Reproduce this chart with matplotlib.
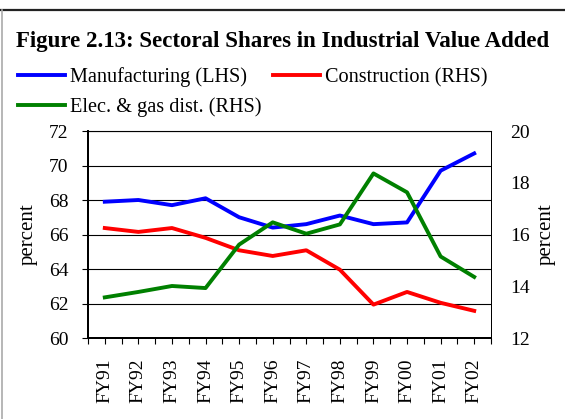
"""Sectoral shares in industrial value added, dual-axis line chart."""

import matplotlib

matplotlib.use("Agg")
import matplotlib.pyplot as plt
from matplotlib.lines import Line2D

years = ["FY91", "FY92", "FY93", "FY94", "FY95", "FY96",
         "FY97", "FY98", "FY99", "FY00", "FY01", "FY02"]
manufacturing = [67.9, 68.0, 67.7, 68.1, 67.0, 66.4, 66.6, 67.1, 66.6, 66.7, 69.7, 70.7]
construction = [16.25, 16.1, 16.25, 15.87, 15.39, 15.17, 15.39, 14.64, 13.29, 13.78, 13.36, 13.05]
electricity = [13.57, 13.78, 14.01, 13.93, 15.61, 16.47, 16.03, 16.39, 18.36, 17.63, 15.15, 14.36]

left_ticks = [60, 62, 64, 66, 68, 70, 72]
right_ticks = [12, 14, 16, 18, 20]

plt.rcParams["font.family"] = "Liberation Serif"

W, H = 565, 419
fig = plt.figure(figsize=(W / 100, H / 100), dpi=100)

# outer frame: heavy top rule and thin grey left edge
fig.add_artist(Line2D([0, 1], [1 - 10 / H, 1 - 10 / H], color="#222222", lw=1.6,
                      transform=fig.transFigure))
fig.add_artist(Line2D([2 / W, 2 / W], [0, 1 - 10 / H], color="#aaaaaa", lw=1.2,
                      transform=fig.transFigure))

fig.text(16 / W, 1 - 47 / H, "Figure 2.13: Sectoral Shares in Industrial Value Added",
         fontsize=16.5, fontweight="bold", va="baseline", ha="left")

ax = fig.add_axes([88 / W, (H - 338) / H, (491 - 88) / W, (338 - 131) / H])
ax2 = ax.twinx()

x = list(range(len(years)))
lw = 2.8
l1, = ax.plot(x, manufacturing, color="#0000ff", lw=lw, label="Manufacturing (LHS)")
l2, = ax2.plot(x, construction, color="#ff0000", lw=lw, label="Construction (RHS)")
l3, = ax2.plot(x, electricity, color="#008000", lw=lw, label="Elec. & gas dist. (RHS)")

ax.set_xlim(-0.5, len(years) - 0.5)
ax.set_ylim(60, 72)
ax.set_yticks(left_ticks)
ax2.set_ylim(12, 20)
ax2.set_yticks(right_ticks)
ax.grid(axis="y", color="black", lw=0.8)
ax.set_axisbelow(True)

ax.set_xticks(x)
ax.set_xticklabels(years, rotation=90, fontsize=14)
ax.set_xticks([i - 0.5 for i in range(len(years) + 1)], minor=True)
ax.tick_params(axis="x", which="both", length=4, width=0.8, direction="out", pad=11)
ax.tick_params(axis="y", length=4, width=0.8, direction="out", labelsize=14, pad=10)
ax2.tick_params(axis="y", length=0, labelsize=14, pad=14)

for side in ("left", "bottom"):
    ax.spines[side].set_linewidth(1.4)
for side in ("top", "right"):
    ax.spines[side].set_linewidth(0.7)
ax2.spines["right"].set_linewidth(0.7)
ax2.spines["left"].set_linewidth(1.4)
ax2.spines["bottom"].set_linewidth(1.4)

ax.set_ylabel("percent", fontsize=15, labelpad=8)
ax2.set_ylabel("percent", fontsize=15, labelpad=5)

fig.legend(handles=[l1, l3, l2], ncol=2, loc="upper left",
           bbox_to_anchor=(10 / W, 1 - 59 / H), frameon=False, fontsize=14.6,
           handlelength=2.3, handletextpad=0.25, columnspacing=0.6,
           labelspacing=0.5, borderaxespad=0)

fig.savefig("out.png", dpi=100)
